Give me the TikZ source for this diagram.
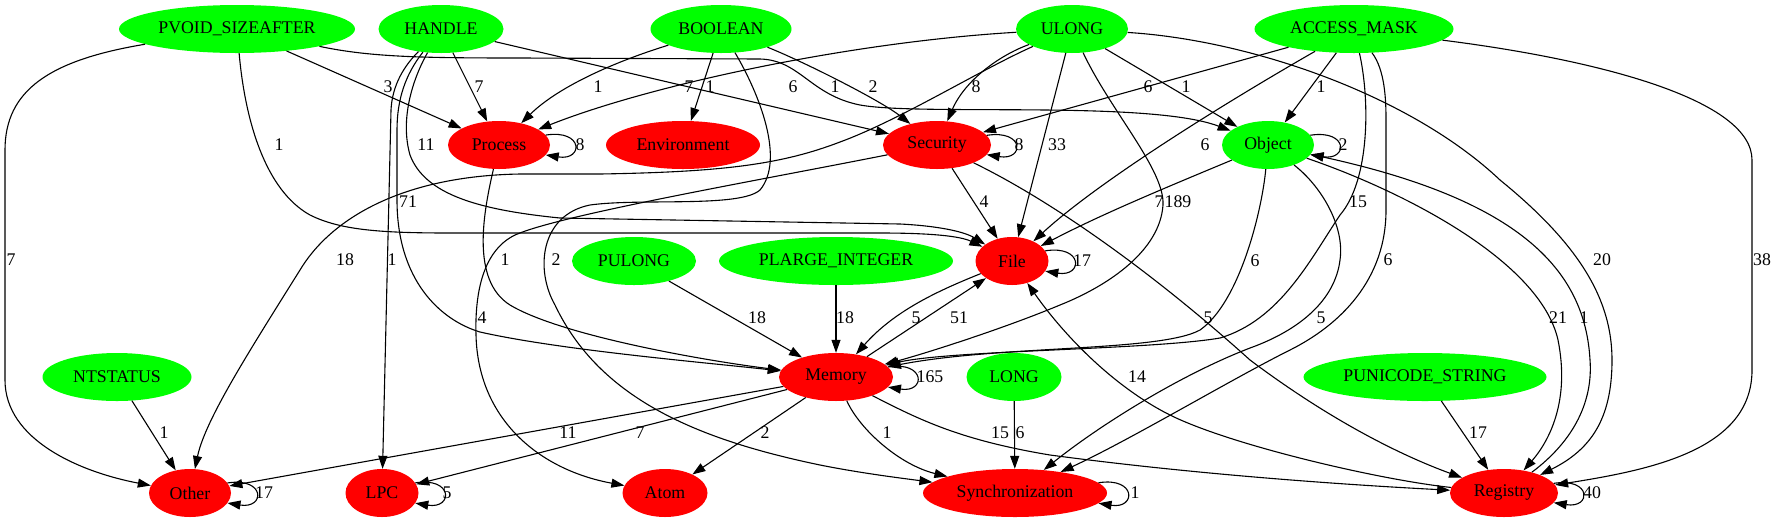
\documentclass[tikz,border=0pt]{standalone}
\usepackage{fontspec}
\setmainfont{Liberation Serif}
\usetikzlibrary{arrows.meta,shapes.geometric}
\definecolor{gr}{RGB}{0,255,0}
\definecolor{rd}{RGB}{255,0,0}
\begin{document}
\begin{tikzpicture}[x=1pt,y=-1pt,
  nd/.style={ellipse,inner sep=0pt,minimum height=48pt,font=\fontsize{17.8}{20}\selectfont},
  gn/.style={nd,fill=gr},
  rn/.style={nd,fill=rd},
  e/.style={line width=1.1pt,-{Triangle[length=13pt,width=9pt]}},
  lb/.style={inner sep=0pt,font=\fontsize{17.8}{20}\selectfont}]
\useasboundingbox (0,0) rectangle (1776,523);
% nodes
\node[gn,minimum width=236pt] (pv) at (237,29) {PVOID\_SIZEAFTER};
\node[gn,minimum width=125pt] (ha) at (441,29) {HANDLE};
\node[gn,minimum width=141pt] (bo) at (721,29) {BOOLEAN};
\node[gn,minimum width=112pt] (ul) at (1072,29) {ULONG};
\node[gn,minimum width=199pt] (ac) at (1354,29) {ACCESS\_MASK};
\node[rn,minimum width=102pt] (pr) at (499,145) {Process};
\node[rn,minimum width=154pt] (en) at (683,145) {Environment};
\node[rn,minimum width=108pt] (se) at (937,145) {Security};
\node[gn,minimum width=92pt] (ob) at (1268,145) {Object};
\node[gn,minimum width=124pt] (pu) at (634,261) {PULONG};
\node[gn,minimum width=234pt] (pl) at (836,261) {PLARGE\_INTEGER};
\node[rn,minimum width=73pt] (fi) at (1012,261) {File};
\node[gn,minimum width=149pt] (nt) at (117,377) {NTSTATUS};
\node[rn,minimum width=114pt] (me) at (836,377) {Memory};
\node[gn,minimum width=95pt] (lo) at (1014,377) {LONG};
\node[gn,minimum width=243pt] (un) at (1425,377) {PUNICODE\_STRING};
\node[rn,minimum width=82pt] (ot) at (190,493) {Other};
\node[rn,minimum width=73pt] (lp) at (382,493) {LPC};
\node[rn,minimum width=85pt] (at) at (665,493) {Atom};
\node[rn,minimum width=184pt] (sy) at (1015,493) {Synchronization};
\node[rn,minimum width=108pt] (re) at (1504,493) {Registry};
% PVOID_SIZEAFTER
\draw[e] (pv) .. controls (50,60) and (5,90) .. (5,150) -- (5,380) .. controls (5,440) and (80,472) .. (ot);
\draw[e] (pv) -- (pr);
\draw[e] (pv) .. controls (245,120) and (265,190) .. (310,215) .. controls (340,230) and (380,233) .. (450,233) -- (880,233) .. controls (930,233) and (960,236) .. (fi);
\draw[e] (pv) .. controls (370,57) and (420,58) .. (520,58) -- (760,59) .. controls (800,60) and (810,95) .. (860,105) .. controls (920,116) and (1150,100) .. (ob);
% HANDLE
\draw[e] (ha) -- (pr);
\draw[e] (ha) -- (se);
\draw[e] (ha) .. controls (400,70) and (392,90) .. (391,110) -- (lp);
\draw[e] (ha) .. controls (405,75) and (397,100) .. (397,130) -- (397,200) .. controls (397,280) and (440,320) .. (480,332) .. controls (560,350) and (700,362) .. (me);
\draw[e] (ha) .. controls (412,80) and (400,120) .. (410,155) .. controls (425,195) and (480,210) .. (560,218) -- (900,224) .. controls (940,226) and (965,232) .. (fi);
% BOOLEAN
\draw[e] (bo) .. controls (620,60) and (560,85) .. (pr);
\draw[e] (bo) -- (en);
\draw[e] (bo) .. controls (800,60) and (880,100) .. (se);
\draw[e] (bo) .. controls (760,95) and (785,160) .. (760,190) .. controls (740,208) and (640,198) .. (590,205) .. controls (540,215) and (535,270) .. (555,305) .. controls (600,400) and (700,440) .. (820,465) .. controls (860,473) and (900,478) .. (sy);
% ULONG
\draw[e] (ul) .. controls (850,42) and (650,85) .. (pr);
\draw[e] (ul) .. controls (980,70) and (900,120) .. (840,142) .. controls (780,165) and (720,172) .. (600,174) -- (520,174) .. controls (400,176) and (330,220) .. (300,270) .. controls (250,350) and (205,420) .. (ot);
\draw[e] (ul) .. controls (1000,55) and (965,80) .. (se);
\draw[e] (ul) -- (fi);
\draw[e] (ul) .. controls (1110,110) and (1165,170) .. (1163,205) .. controls (1160,250) and (1110,285) .. (1060,305) .. controls (1000,330) and (920,355) .. (me);
\draw[e] (ul) -- (ob);
\draw[e] (ul) .. controls (1250,40) and (1410,95) .. (1500,180) .. controls (1580,245) and (1612,300) .. (1612,360) .. controls (1612,420) and (1590,450) .. (re);
% ACCESS_MASK
\draw[e] (ac) -- (se);
\draw[e] (ac) -- (ob);
\draw[e] (ac) .. controls (1230,100) and (1100,180) .. (fi);
\draw[e] (ac) .. controls (1370,100) and (1370,180) .. (1340,215) .. controls (1310,260) and (1280,320) .. (1220,338) .. controls (1150,350) and (950,350) .. (me);
\draw[e] (ac) .. controls (1385,70) and (1386,100) .. (1386,120) -- (1386,210) .. controls (1386,280) and (1340,325) .. (1290,350) .. controls (1230,380) and (1130,440) .. (sy);
\draw[e] (ac) .. controls (1600,60) and (1752,100) .. (1752,160) -- (1752,370) .. controls (1752,450) and (1650,470) .. (re);
% Object
\draw[e] (ob) .. controls (1160,190) and (1100,215) .. (fi);
\draw[e] (ob) .. controls (1262,210) and (1240,302) .. (1200,330) .. controls (1160,352) and (1000,345) .. (me);
\draw[e] (ob) .. controls (1320,185) and (1345,225) .. (1340,260) .. controls (1335,300) and (1300,330) .. (1250,348) .. controls (1180,375) and (1100,425) .. (sy);
\draw[e] (ob) .. controls (1400,190) and (1540,260) .. (1558,340) .. controls (1570,400) and (1550,440) .. (re);
\draw[e] (re) .. controls (1575,440) and (1593,400) .. (1590,360) .. controls (1585,270) and (1520,200) .. (ob);
% Security
\draw[e] (se) -- (fi);
\draw[e] (se) .. controls (1050,200) and (1150,270) .. (1250,360) .. controls (1330,420) and (1400,455) .. (re);
\draw[e] (se) .. controls (750,182) and (560,215) .. (515,235) .. controls (480,252) and (475,300) .. (476,335) .. controls (478,420) and (540,470) .. (at);
% Process
\draw[e] (pr) .. controls (484,210) and (470,280) .. (510,305) .. controls (560,335) and (700,360) .. (me);
% Memory
\draw[e] (me) -- (ot);
\draw[e] (me) -- (lp);
\draw[e] (me) -- (at);
\draw[e] (me) .. controls (860,430) and (900,465) .. (sy);
\draw[e] (me) .. controls (920,420) and (960,440) .. (1050,455) .. controls (1200,475) and (1350,485) .. (re);
\draw[e] (me) -- (fi);
\draw[e] (fi) .. controls (940,290) and (895,310) .. (me);
% others
\draw[e] (pu) -- (me);
\draw[e] (pl) -- (me);
\draw[e] (nt) -- (ot);
\draw[e] (lo) -- (sy);
\draw[e] (un) -- (re);
\draw[e] (re) .. controls (1380,480) and (1230,445) .. (1170,415) .. controls (1110,385) and (1060,330) .. (fi);
% self loops
\draw[e] (pr.12) .. controls +(38,-6) and +(38,6) .. (pr.-12);
\draw[e] (se.11.5) .. controls +(38,-6) and +(38,6) .. (se.-11.5);
\draw[e] (ob.13.5) .. controls +(38,-6) and +(38,6) .. (ob.-13.5);
\draw[e] (fi.17) .. controls +(38,-6) and +(38,6) .. (fi.-17);
\draw[e] (me.11) .. controls +(38,-6) and +(38,6) .. (me.-11);
\draw[e] (ot.15) .. controls +(38,-6) and +(38,6) .. (ot.-15);
\draw[e] (lp.17) .. controls +(38,-6) and +(38,6) .. (lp.-17);
\draw[e] (sy.7) .. controls +(38,-6) and +(38,6) .. (sy.-7);
\draw[e] (re.11.5) .. controls +(38,-6) and +(38,6) .. (re.-11.5);
% labels
\node[lb] (l01) at (388,87) {3};
\node[lb] (l02) at (479,87) {7};
\node[lb] (l03) at (598,87) {1};
\node[lb] (l04) at (689,87) {7};
\node[lb] (l05) at (710,87) {1};
\node[lb] (l06) at (793,87) {6};
\node[lb] (l07) at (835,87) {1};
\node[lb] (l08) at (873,87) {2};
\node[lb] (l09) at (976,87) {8};
\node[lb] (l10) at (1148,87) {6};
\node[lb] (l11) at (1186,87) {1};
\node[lb] (l12) at (1321,87) {1};
\node[lb] (l13) at (279,145) {1};
\node[lb] (l14) at (426,145) {11};
\node[lb] (l15) at (580,145) {8};
\node[lb] (l16) at (1019,145) {8};
\node[lb] (l17) at (1057,145) {33};
\node[lb] (l18) at (1205,145) {6};
\node[lb] (l19) at (1343,145) {2};
\node[lb] (l20) at (408,202) {71};
\node[lb] (l21) at (984,202) {4};
\node[lb] (l22) at (1159,202) {7};
\node[lb] (l23) at (1178,202) {189};
\node[lb] (l24) at (1358,202) {15};
\node[lb] (l25) at (11,260) {7};
\node[lb] (l26) at (345,260) {18};
\node[lb] (l27) at (392,260) {1};
\node[lb] (l28) at (505,260) {1};
\node[lb] (l29) at (556,260) {2};
\node[lb] (l30) at (1082,261) {17};
\node[lb] (l31) at (1255,261) {6};
\node[lb] (l32) at (1388,260) {6};
\node[lb] (l33) at (1602,260) {20};
\node[lb] (l34) at (1762,260) {38};
\node[lb] (l35) at (482,318) {4};
\node[lb] (l36) at (757,318) {18};
\node[lb] (l37) at (845,318) {18};
\node[lb] (l38) at (916,318) {5};
\node[lb] (l39) at (959,318) {51};
\node[lb] (l40) at (1208,318) {5};
\node[lb] (l41) at (1321,318) {5};
\node[lb] (l42) at (1558,318) {21};
\node[lb] (l43) at (1584,318) {1};
\node[lb] (l44) at (930,377) {165};
\node[lb] (l45) at (1137,377) {14};
\node[lb] (l46) at (164,433) {1};
\node[lb] (l47) at (568,433) {11};
\node[lb] (l48) at (640,433) {7};
\node[lb] (l49) at (765,433) {2};
\node[lb] (l50) at (887,433) {1};
\node[lb] (l51) at (1000,433) {15};
\node[lb] (l52) at (1020,433) {6};
\node[lb] (l53) at (1478,433) {17};
\node[lb] (l54) at (264,493) {17};
\node[lb] (l55) at (447,493) {5};
\node[lb] (l56) at (1135,493) {1};
\node[lb] (l57) at (1592,493) {40};
\end{tikzpicture}
\end{document}
